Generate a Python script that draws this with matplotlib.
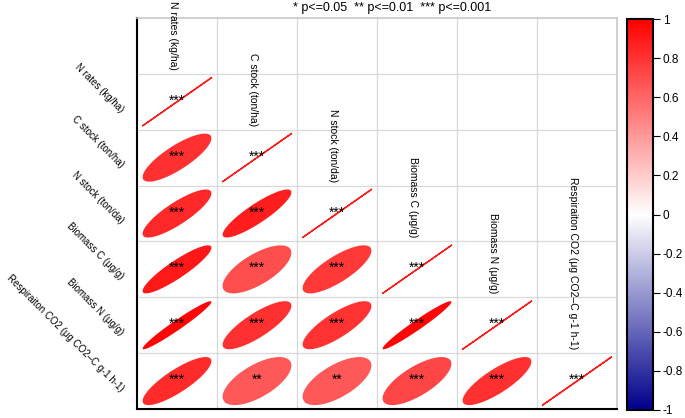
import numpy as np
import matplotlib
matplotlib.use("Agg")
import matplotlib.pyplot as plt
from matplotlib.colors import LinearSegmentedColormap, Normalize
from matplotlib.cm import ScalarMappable

plt.rcParams['font.family'] = ['Liberation Sans', 'DejaVu Sans']
plt.rcParams['axes.unicode_minus'] = False

labels = ["N rates (kg/ha)", "C stock (ton/ha)", "N stock (ton/da)",
          "Biomass C (μg/g)", "Biomass N (μg/g)",
          "Respiraiton CO2 (μg CO2–C g-1 h-1)"]

# lower triangle of the correlation matrix (row by row)
corr = [
    [1.0],
    [0.81, 1.0],
    [0.84, 0.88, 1.0],
    [0.90, 0.69, 0.78, 1.0],
    [0.97, 0.81, 0.80, 0.97, 1.0],
    [0.83, 0.65, 0.65, 0.72, 0.81, 1.0],
]
stars = [
    ["***"],
    ["***", "***"],
    ["***", "***", "***"],
    ["***", "***", "***", "***"],
    ["***", "***", "***", "***", "***"],
    ["***", "**", "**", "***", "***", "***"],
]
legend_text = "* p<=0.05  ** p<=0.01  *** p<=0.001"
cbar_ticks = [1, 0.8, 0.6, 0.4, 0.2, 0, -0.2, -0.4, -0.6, -0.8, -1]

cmap = LinearSegmentedColormap.from_list('bwr2', ['#00008B', '#FFFFFF', '#FF0000'])
norm = Normalize(-1, 1)

n = len(labels)
fig = plt.figure(figsize=(6.85, 4.18), dpi=100)
ax = fig.add_axes([137/685, 1-409/418, 480/685, 391/418])
ax.set_xlim(0, n)
ax.set_ylim(n + 1, 0)
ax.set_xticks([])
ax.set_yticks([])

# grid
for k in range(1, n):
    ax.axvline(k, color='#D9D9D9', lw=0.9, zorder=0)
for k in range(1, n + 1):
    ax.axhline(k, color='#D9D9D9', lw=0.9, zorder=0)
for side in ['top', 'right']:
    ax.spines[side].set_color('#C8C8C8')
    ax.spines[side].set_linewidth(1.2)
for side in ['left', 'bottom']:
    ax.spines[side].set_color('black')
    ax.spines[side].set_linewidth(1.5)

t = np.linspace(0, 2 * np.pi, 200)
s = 0.43
for i in range(n):
    for j in range(i + 1):
        r = corr[i][j]
        cx, cy = j + 0.5, i + 1.5
        d = np.arccos(np.clip(r, -1, 1))
        xs = cx + s * np.cos(t + d / 2)
        ys = cy - s * np.cos(t - d / 2)
        col = cmap(norm(r))
        if i == j:
            ax.plot(xs, ys, color='#FF1A1A', lw=1.0, zorder=2)
        else:
            ax.fill(xs, ys, color=col, lw=0, zorder=2)
        ax.text(cx, cy - 0.02, stars[i][j], ha='center', va='center', fontsize=10,
                color='black', zorder=3)

# column labels
for j, lab in enumerate(labels):
    ax.text(j + 0.45, j + 0.93, lab, rotation=-90, rotation_mode='anchor',
            ha='right', va='center', fontsize=7.5, clip_on=False)

# row labels
for i, lab in enumerate(labels):
    ax.text(-0.19, i + 1.66, lab, rotation=-45, rotation_mode='anchor',
            ha='right', va='center', fontsize=7.0, clip_on=False)

fig.text(392/685, 1-8/418, legend_text, ha='center', va='center', fontsize=9)

cax = fig.add_axes([627/685, 1-410/418, 26/685, 391/418])
cb = fig.colorbar(ScalarMappable(norm=norm, cmap=cmap), cax=cax, ticks=cbar_ticks)
cb.ax.set_yticklabels([str(v) for v in cbar_ticks])
cb.outline.set_linewidth(1.5)
cb.ax.tick_params(labelsize=8.5, length=5, width=0.8, pad=2)

fig.savefig("out.png", dpi=100)
